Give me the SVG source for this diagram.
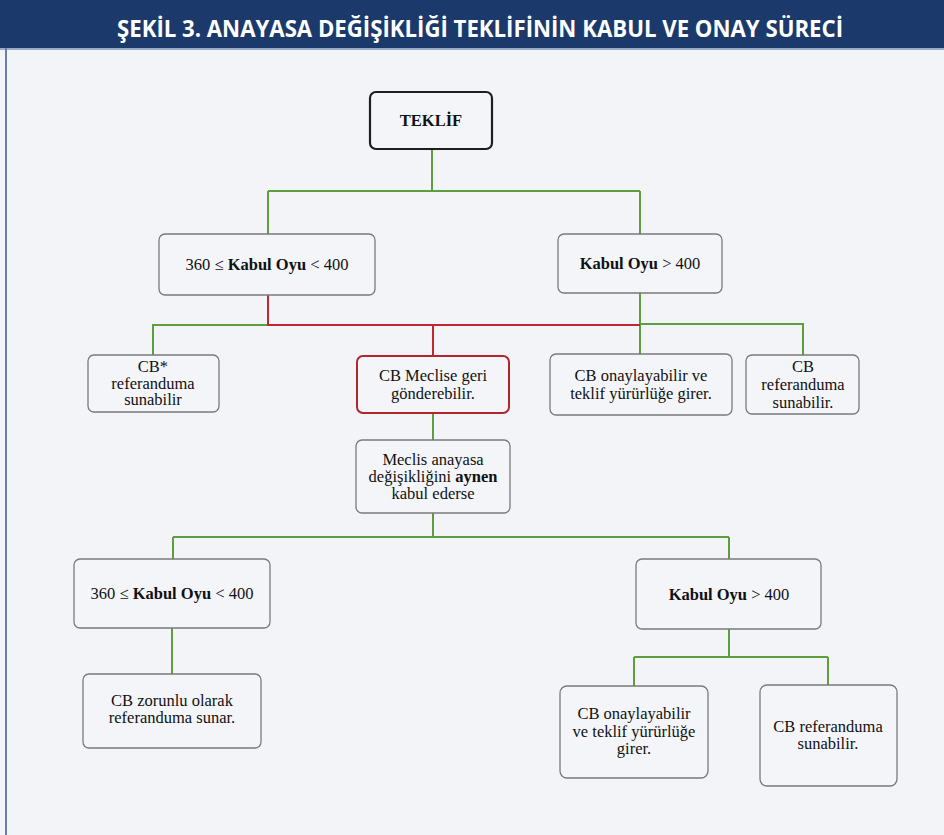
<svg xmlns="http://www.w3.org/2000/svg" width="944" height="835" viewBox="0 0 944 835">
<style>
.box{fill:#f4f5f9;stroke:#7a7a7a;stroke-width:1.3}
.t{font-family:"Liberation Serif","Times New Roman",serif;font-size:16.5px;fill:#111;text-anchor:middle}
.b{font-weight:bold}
.g{fill:none;stroke:#5f9e3f;stroke-width:2}
.r{fill:none;stroke:#c0282e;stroke-width:2}
</style>
<rect x="0" y="0" width="944" height="835" fill="#f3f4f8"/>
<rect x="0" y="0" width="944" height="48" fill="#1b3a6b"/>
<rect x="0" y="48" width="944" height="2" fill="#9aabc8"/>
<rect x="5" y="48" width="2" height="787" fill="#6a80a6"/>
<text x="480" y="37" fill="#ffffff" font-family="'Open Sans','Noto Sans',sans-serif" font-weight="bold" font-size="24" text-anchor="middle" textLength="726" lengthAdjust="spacingAndGlyphs">ŞEKİL 3. ANAYASA DEĞİŞİKLİĞİ TEKLİFİNİN KABUL VE ONAY SÜRECİ</text>
<g id="connectors">
<path class="g" d="M432 149V191M268 191H640M268 191V234M640 191V234"/>
<path class="g" d="M268 325H153V355M640 293V354M640 324H803V355"/>
<path class="r" d="M268 295V325H640M433 325V356"/>
<path class="g" d="M433 413V440M433 513V537M173 537H729M173 537V559M729 537V559"/>
<path class="g" d="M172 628V674M729 629V657M634 657H828M634 657V686M828 657V685"/>
</g>
<g id="teklif"><rect x="370" y="92" width="122" height="57" rx="6" fill="#f4f5f9" stroke="#1e1e1e" stroke-width="2.2"/><text class="t b" x="431" y="126">TEKLİF</text></g>
<g id="oy1"><rect class="box" x="159" y="234" width="216" height="61" rx="6"/><text class="t" x="267" y="270">360 ≤ <tspan class="b">Kabul Oyu</tspan> &lt; 400</text></g>
<g id="oy2"><rect class="box" x="558" y="234" width="164" height="59" rx="6"/><text class="t" x="640" y="269"><tspan class="b">Kabul Oyu</tspan> &gt; 400</text></g>
<g id="cb1"><rect class="box" x="88" y="355" width="131" height="57" rx="6"/><text class="t" x="153" y="372">CB*</text><text class="t" x="153" y="389">referanduma</text><text class="t" x="153" y="405">sunabilir</text></g>
<g id="geri"><rect x="357" y="356" width="152" height="57" rx="6" fill="#f4f5f9" stroke="#b0262c" stroke-width="2"/><text class="t" x="433" y="381">CB Meclise geri</text><text class="t" x="433" y="399">gönderebilir.</text></g>
<g id="onay1"><rect class="box" x="550" y="354" width="182" height="61" rx="6"/><text class="t" x="641" y="381">CB onaylayabilir ve</text><text class="t" x="641" y="399">teklif yürürlüğe girer.</text></g>
<g id="ref1"><rect class="box" x="746" y="355" width="113" height="59" rx="6"/><text class="t" x="803" y="372">CB</text><text class="t" x="803" y="390">referanduma</text><text class="t" x="803" y="408">sunabilir.</text></g>
<g id="meclis"><rect class="box" x="356" y="440" width="154" height="73" rx="6"/><text class="t" x="433" y="465">Meclis anayasa</text><text class="t" x="433" y="482">değişikliğini <tspan class="b">aynen</tspan></text><text class="t" x="433" y="499">kabul ederse</text></g>
<g id="oy3"><rect class="box" x="74" y="559" width="196" height="69" rx="6"/><text class="t" x="172" y="599">360 ≤ <tspan class="b">Kabul Oyu</tspan> &lt; 400</text></g>
<g id="oy4"><rect class="box" x="636" y="559" width="185" height="70" rx="6"/><text class="t" x="729" y="600"><tspan class="b">Kabul Oyu</tspan> &gt; 400</text></g>
<g id="zorunlu"><rect class="box" x="83" y="674" width="178" height="74" rx="6"/><text class="t" x="172" y="706">CB zorunlu olarak</text><text class="t" x="172" y="723">referanduma sunar.</text></g>
<g id="onay2"><rect class="box" x="560" y="686" width="148" height="92" rx="7"/><text class="t" x="634" y="719">CB onaylayabilir</text><text class="t" x="634" y="737">ve teklif yürürlüğe</text><text class="t" x="634" y="754">girer.</text></g>
<g id="ref2"><rect class="box" x="760" y="685" width="137" height="101" rx="7"/><text class="t" x="828" y="732">CB referanduma</text><text class="t" x="828" y="749">sunabilir.</text></g>
</svg>
